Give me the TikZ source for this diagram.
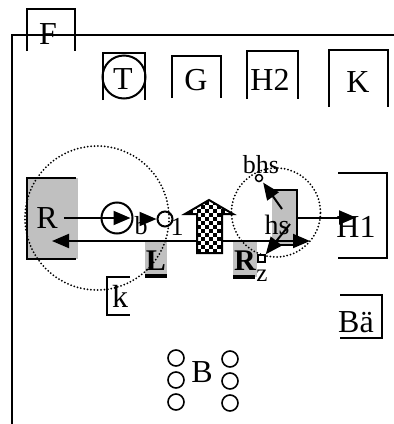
\documentclass[tikz,border=0pt]{standalone}
\usepackage{fontspec}
\setmainfont{Liberation Serif}
\usetikzlibrary{arrows.meta}
\definecolor{boxgray}{RGB}{192,192,192}
\begin{document}
\begin{tikzpicture}[x=1pt,y=-1pt,
  lw/.style={line width=2pt},
  bx/.style={rectangle,inner sep=0pt,outer sep=0pt},
  grayfill/.style={bx,fill=boxgray},
  lbl/.style={inner sep=0pt,font=\fontsize{32}{38}\selectfont},
  mid/.style={inner sep=0pt,font=\fontsize{28}{34}\selectfont},
  sml/.style={inner sep=0pt,font=\fontsize{26}{30}\selectfont},
  bld/.style={inner sep=0pt,font=\fontsize{30}{36}\selectfont\bfseries},
  tip/.style={Triangle[length=17pt,width=14pt]},
  arr/.style={lw,-{Triangle[length=17pt,width=14pt]}},
  dots/.style={line width=2pt,dash pattern=on 0pt off 3.4pt,line cap=round},
  ring/.style={circle,draw,lw,inner sep=0pt}]
\useasboundingbox (0,0) rectangle (394,424);

% outer frame
\draw[lw] (12,430) |- (400,35);

% boxes open at the bottom
\node[bx,minimum width=48pt,minimum height=42pt] (Fb) at (51,30) {};
\node[bx,minimum width=42pt,minimum height=47pt] (Tb) at (124,76.5) {};
\node[bx,minimum width=49pt,minimum height=42pt] (Gb) at (196.5,77) {};
\node[bx,minimum width=51pt,minimum height=48pt] (H2b) at (272.5,75) {};
\node[bx,minimum width=59pt,minimum height=57pt] (Kb) at (358.5,78.5) {};
\foreach \n in {Fb,Tb,Gb,H2b,Kb}
  \draw[lw] (\n.south west) |- (\n.north east) -- (\n.south east);

% boxes open at the left
\node[bx,minimum width=49pt,minimum height=85pt] (H1b) at (362.5,215.5) {};
\node[bx,minimum width=42pt,minimum height=43pt] (Bab) at (361,316.5) {};
\node[grayfill,minimum width=25pt,minimum height=55pt] (hsb) at (284.5,217.5) {};
\foreach \n in {H1b,Bab,hsb}
  \draw[lw] (\n.north west) -| (\n.south east) -- (\n.south west);

% boxes open at the right
\node[grayfill,minimum width=51pt,minimum height=81pt] (Rb) at (52.5,218.5) {};
\node[bx,minimum width=23pt,minimum height=38pt] (kb) at (118.5,296) {};
\draw[lw] ([xshift=-2pt]Rb.north east) -| (Rb.south west) -- ([xshift=-2pt]Rb.south east);
\draw[lw] (kb.north east) -| (kb.south west) -- (kb.south east);

% gray boxes with bold letters
\node[grayfill,minimum width=22pt,minimum height=36pt] (Lb) at (156,258) {};
\node[grayfill,minimum width=24pt,minimum height=35pt] (Rzb) at (245,259.5) {};
\draw[line width=4pt] (Lb.south west) -- (Lb.south east);
\draw[line width=4pt] (Rzb.south west) -- ([xshift=-2pt]Rzb.south east);

% dotted circles
\node[circle,dots,draw,minimum size=144pt,inner sep=0pt] (zone1) at (97,218) {};
\node[circle,dots,draw,minimum size=89pt,inner sep=0pt] (zone2) at (276,212.5) {};

% small shapes
\node[ring,minimum size=31pt] (bigc) at (117,218) {};
\node[ring,minimum size=15pt] (smc) at (165,219) {};
\node[circle,draw,line width=1.5pt,inner sep=0pt,minimum size=7pt] (bhsc) at (259,178) {};
\node[rectangle,draw,line width=1.5pt,inner sep=0pt,minimum size=7pt] (sq) at (261.5,258.5) {};

% labels
\node[lbl] (F) at (48,34) {F};
\node[lbl] (T) at (123,79) {T};
\node[ring,minimum size=43pt] (Tc) at (124,77) {};
\node[lbl] (G) at (196,80) {G};
\node[lbl] (H2) at (270,80) {H2};
\node[lbl] (K) at (358,82) {K};
\node[lbl] (R) at (47,218) {R};
\node[lbl] (H1) at (356,227) {H1};
\node[lbl] (Ba) at (356,322) {Bä};
\node[lbl] (k) at (120,296) {k};
\node[lbl] (B) at (202,372) {B};
\node[mid] (hs) at (277,225) {hs};
\node[inner sep=0pt,font=\fontsize{26}{30}\selectfont] (bhs) at (261,165) {bhs};
\node[sml] (b) at (141,226) {b};
\node[sml] (one) at (177,227) {1};
\node[inner sep=0pt,font=\fontsize{25}{30}\selectfont] (z) at (262,276) {z};
\node[bld] (L) at (156,261) {L};
\node[bld] (Rz) at (245,261) {R};

% connectors
\coordinate (leftTip) at (52,241);
\coordinate (rightTip) at (310,241);
\draw[lw,{Triangle[length=17pt,width=14pt]}-{Triangle[length=17pt,width=14pt]}] (leftTip) -- (rightTip);
\draw[arr,shorten >=3pt] ([xshift=6pt]R.east) -- (bigc.east);
\draw[arr] (smc.west -| b.east) -- (smc.west);
\draw[arr] (hsb.east) -- (hsb.east -| H1.center);
\coordinate (hsA) at (282,209);
\coordinate (hsB) at (290,224);
\draw[arr,shorten >=2pt] (hsA) -- (bhsc.south east);
\draw[arr] (hsB) -- (sq.north east);

% checkered up arrow
\begin{scope}
  \clip (209,200) -- (233,214) -- (222,214) -- (222,253) -- (197,253) -- (197,214) -- (185,214) -- cycle;
  \fill[white] (180,195) rectangle (240,260);
  \foreach \i in {0,...,13}
    \foreach \j in {0,...,15} {
      \pgfmathtruncatemacro\chk{mod(\i+\j,2)}
      \ifnum\chk=0 \fill[black] (185+4*\i,197+4*\j) rectangle +(4,4); \fi
    }
\end{scope}
\draw[lw,line join=miter] (209,200) -- (233,214) -- (222,214) -- (222,253) -- (197,253) -- (197,214) -- (185,214) -- cycle;

% B group
\foreach \y [count=\c] in {358,380,402} {
  \node[circle,draw,line width=1.6pt,inner sep=0pt,minimum size=16pt] (bl\c) at (176,\y) {};
  \node[circle,draw,line width=1.6pt,inner sep=0pt,minimum size=16pt] (br\c) at (230,\y+1) {};
}
\end{tikzpicture}
\end{document}
